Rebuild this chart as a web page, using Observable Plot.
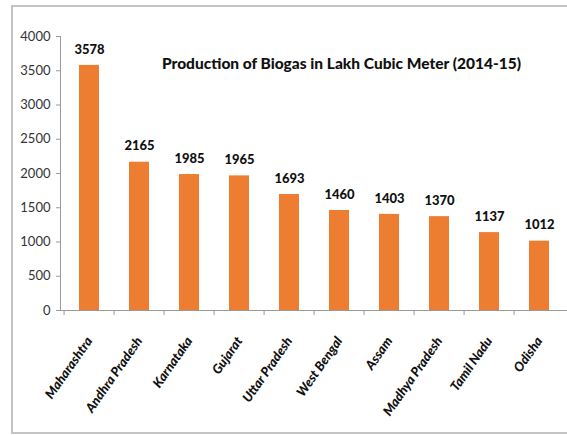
<!DOCTYPE html>
<html>
<head>
<meta charset="utf-8">
<script src="https://cdn.jsdelivr.net/npm/d3@7"></script>
<script src="https://cdn.jsdelivr.net/npm/@observablehq/plot@0.6"></script>
<style>
  html, body { margin: 0; padding: 0; background: #fff; overflow: hidden; }
  #wrap { position: relative; width: 567px; height: 435px; }
  #border { position: absolute; left: 11px; top: 5px; width: 620px; height: 425px; border: 2px solid #c4c4c4; pointer-events: none; }
  #chart { position: absolute; left: 0; top: 0; }
</style>
</head>
<body>
<div id="wrap"><div id="chart"></div><div id="border"></div></div>
<script>
const states = ["Maharashtra", "Andhra Pradesh", "Karnataka", "Gujarat", "Uttar Pradesh", "West Bengal", "Assam", "Madhya Pradesh", "Tamil Nadu", "Odisha"];
const production = [3578, 2165, 1985, 1965, 1693, 1460, 1403, 1370, 1137, 1012];
const yTicks = [0, 500, 1000, 1500, 2000, 2500, 3000, 3500, 4000];
const title = "Production of Biogas in Lakh Cubic Meter (2014-15)";

const data = states.map((s, i) => ({state: s, value: production[i]}));

const W = 567, H = 435, mL = 60, mR = -1, mT = 36, mB = 125;
const step = (W - mL - mR) / states.length;
const font = "Lato, sans-serif";

const chart = Plot.plot({
  width: W,
  height: H,
  marginLeft: mL,
  marginRight: mR,
  marginTop: mT,
  marginBottom: mB,
  style: {fontFamily: font, fontSize: "12px", color: "#404040", background: "transparent"},
  x: {domain: states, paddingInner: 0.6, paddingOuter: 0.3, label: null},
  y: {domain: [0, 4000], label: null},
  marks: [
    Plot.barY(data, {x: "state", y: "value", fill: "#ED7D31"}),
    Plot.frame({anchor: "left", stroke: "#9a9a9a"}),
    Plot.ruleY([0], {stroke: "#9a9a9a"}),
    Plot.axisY({ticks: yTicks, tickFormat: d3.format("d"), tickSize: 4, tickPadding: 6, stroke: "#9a9a9a", fill: "#333", fontSize: 13, label: null}),
    Plot.axisX({tickSize: 5, tickFormat: () => "", dx: -step / 2, stroke: "#9a9a9a", label: null}),
    Plot.axisX({tickSize: 0, tickRotate: -55, tickPadding: 28, fontWeight: 900, fontStyle: "italic", fontSize: 13, fill: "#111", label: null}),
    Plot.text(data, {x: "state", y: "value", text: d => String(d.value), dy: -16, fontWeight: 900, fontSize: 13, fill: "#111"}),
    Plot.text([title], {frameAnchor: "top", dx: 27, dy: 21, fontWeight: 900, fontSize: 15.5, fill: "#111"})
  ]
});
document.getElementById("chart").appendChild(chart);
</script>
</body>
</html>
